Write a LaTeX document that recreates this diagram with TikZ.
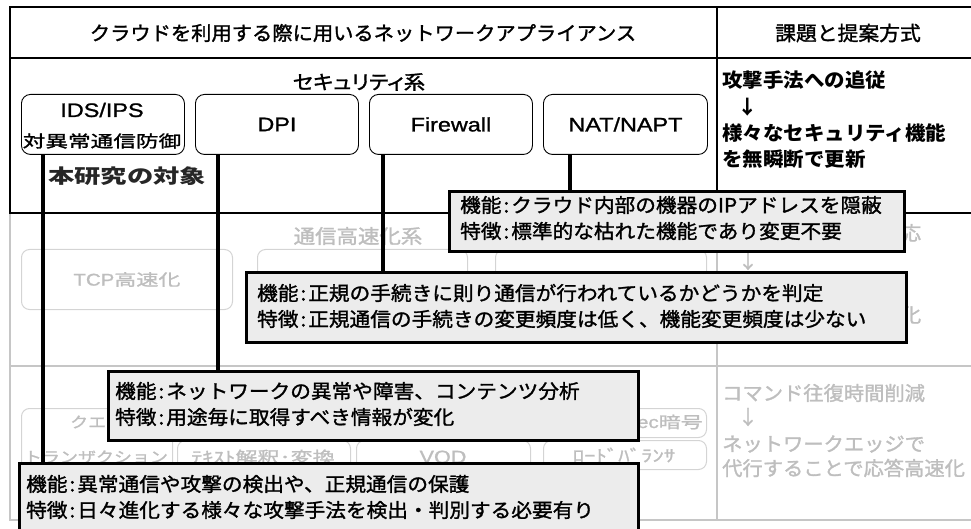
\documentclass[tikz,border=0pt]{standalone}
\usepackage{fontspec}
\setmainfont{Noto Sans CJK JP}
\newfontfamily\jpT{Noto Sans CJK JP}[FakeStretch=1.05]
\newfontfamily\jpTr{Noto Sans CJK JP}[FakeStretch=1.04,FakeBold=1.5]
\newfontfamily\jpP{Noto Sans CJK JP}[FakeStretch=1.1,RawFeature=+palt,FakeBold=1.5]
\newfontfamily\jpC{Noto Sans CJK JP}[FakeStretch=1.06,FakeBold=1.4]
\newfontfamily\jpW{Noto Sans CJK JP}[FakeStretch=1.38,FakeBold=1.4]
\newfontfamily\jpB{Noto Sans CJK JP}[FakeStretch=1.35]
\newfontfamily\jpM{Noto Sans CJK JP}[FakeStretch=1.2,FakeBold=1.4]
\newfontfamily\arW{Liberation Sans}[FakeStretch=1.2,FakeBold=1.2]
\newcommand{\fsz}[1]{\fontsize{#1}{#1}\selectfont}
\newcommand{\cln}{\makebox[0.5em]{:}}
\definecolor{fadetext}{RGB}{190,190,190}
\definecolor{fadeline}{RGB}{198,198,198}
\definecolor{fadebox}{RGB}{212,212,212}
\definecolor{callfill}{RGB}{236,236,236}
\tikzset{
  blackframe/.style={draw=black, line width=2.4pt},
  grayframe/.style={draw=fadeline, line width=2pt},
  secbox/.style={draw=black, line width=0.9pt, rounded corners=9pt, inner sep=0pt, anchor=north west},
  fadedbox/.style={draw=fadebox, line width=1pt, rounded corners=8pt, inner sep=0pt, anchor=north west},
  link/.style={draw=black, line width=3.2pt},
  callout/.style={draw=black, fill=callfill, line width=2.6pt, inner sep=0pt, anchor=north west},
  txt/.style={inner sep=0pt},
  ftxt/.style={inner sep=0pt, text=fadetext},
  ctxt/.style={inner sep=0pt, anchor=west, font=\jpC\fsz{19.5}},
}
\begin{document}
\begin{tikzpicture}[x=1pt,y=-1pt]
\useasboundingbox (0,0) rectangle (971,529);
% ---------- faded sections ----------
\draw[grayframe] (10,213) rectangle (975,366);
\draw[grayframe] (10,366) rectangle (975,520);
\draw[grayframe] (717,213) -- (717,520);
\node[ftxt, font=\jpP\fsz{19.5}] (speedtitle) at (358,236) {通信高速化系};
\node[fadedbox, minimum width=211pt, minimum height=60pt] (tcp) at (21,249) {};
\node[fadedbox, minimum width=210pt, minimum height=60pt] (mid2) at (257,249) {};
\node[fadedbox, minimum width=211pt, minimum height=60pt] (mid3) at (495,249) {};
\node[ftxt] (tcptext) at (tcp.center) {{\arW\fsz{17}TCP}{\jpW\fsz{16}高速化}};
\node[ftxt, font=\jpTr\fsz{19.5}] (midr1) at (911,233) {応};
\node[ftxt, font=\jpTr\fsz{19.5}] (midr2) at (748,261) {↓};
\node[ftxt, font=\jpTr\fsz{19.5}] (midr4) at (911,315) {化};
% lower faded boxes
\node[fadedbox, minimum width=151pt, minimum height=64pt] (low1) at (21,408) {};
\node[fadedbox, minimum width=173pt, minimum height=32pt] (low2) at (177,440) {};
\node[fadedbox, minimum width=174pt, minimum height=32pt] (low3) at (356,440) {};
\node[fadedbox, minimum width=163pt, minimum height=29pt] (low4) at (543,440) {};
\node[fadedbox, minimum width=163pt, minimum height=29pt] (low5) at (543,408) {};
\node[ftxt, anchor=west, font=\jpM\fsz{15}] (low1a) at (70,422) {クエ};
\node[ftxt, font=\jpM\fsz{15}] (low1b) at (96,457) {トランザクション};
\node[ftxt, font=\jpW\fsz{16}] (low2t) at (263,457) {ﾃｷｽﾄ解釈･変換};
\node[ftxt, font=\arW\fsz{18}] (low3t) at (443,457) {VOD};
\node[ftxt, font=\jpW\fsz{16.5}] (low4t) at (624,455) {ﾛｰﾄﾞﾊﾞﾗﾝｻ};
\node[ftxt, anchor=east] (low5t) at (703,422) {{\arW\fsz{17}IPsec}{\jpW\fsz{16}暗号}};
\node[ftxt, anchor=west, font=\jpTr\fsz{19.5}] (lowr1) at (722,393) {コマンド往復時間削減};
\node[ftxt, font=\jpTr\fsz{19.5}] (lowr2) at (748,417) {↓};
\node[ftxt, anchor=west, font=\jpTr\fsz{19.5}] (lowr3) at (722,444) {ネットワークエッジで};
\node[ftxt, anchor=west, font=\jpTr\fsz{19.5}] (lowr4) at (722,468) {代行することで応答高速化};
% ---------- top section ----------
\draw[blackframe] (10,7) rectangle (975,213);
\draw[black, line width=2pt] (10,58) -- (975,58);
\draw[blackframe] (717,7) -- (717,213);
\node[txt, font=\jpTr\fsz{19.5}] (title) at (363,33) {クラウドを利用する際に用いるネットワークアプライアンス};
\node[txt, font=\jpTr\fsz{20}] (issue) at (848,33) {課題と提案方式};
\node[txt, font=\jpP\fsz{19.5}] (sectitle) at (359,82) {セキュリティ系};
\node[secbox, minimum width=163pt, minimum height=60pt] (ids) at (21,94) {};
\node[secbox, minimum width=163pt, minimum height=60pt] (dpi) at (195,94) {};
\node[secbox, minimum width=163pt, minimum height=60pt] (fw) at (369,94) {};
\node[secbox, minimum width=164pt, minimum height=60pt] (nat) at (543,94) {};
\node[txt, font=\arW\fsz{19.5}] (idsa) at (102,110) {IDS/IPS};
\node[txt, font=\jpW\fsz{16.4}] (idsb) at (102,141) {対異常通信防御};
\node[txt, font=\arW\fsz{19.5}] (dpit) at (dpi.center) {DPI};
\node[txt, font=\arW\fsz{19.5}] (fwt) at (fw.center) {Firewall};
\node[txt, font=\arW\fsz{19.5}] (natt) at (nat.center) {NAT/NAPT};
\node[txt, anchor=west, text=black!85, font=\jpB\bfseries\fsz{19.5}] (target) at (48,176) {本研究の対象};
\node[txt, anchor=west, font=\jpT\bfseries\fsz{19.5}] (r1) at (722,80) {攻撃手法への追従};
\node[txt, font=\jpT\bfseries\fsz{19.5}] (r2) at (748,107) {↓};
\node[txt, anchor=west, font=\jpT\bfseries\fsz{19.5}] (r3) at (722,133) {様々なセキュリティ機能};
\node[txt, anchor=west, font=\jpT\bfseries\fsz{19.5}] (r4) at (722,159) {を無瞬断で更新};
% ---------- callouts ----------
\node[callout, minimum width=455pt, minimum height=60pt] (cnat) at (448,190) {};
\node[ctxt] (cnat1) at (460,205) {機能\cln クラウド内部の機器のIPアドレスを隠蔽};
\node[ctxt] (cnat2) at (460,231) {特徴\cln 標準的な枯れた機能であり変更不要};
\node[callout, minimum width=660pt, minimum height=70pt] (cfw) at (245,271) {};
\node[ctxt] (cfw1) at (257,293) {機能\cln 正規の手続きに則り通信が行われているかどうかを判定};
\node[ctxt] (cfw2) at (257,319) {特徴\cln 正規通信の手続きの変更頻度は低く、機能変更頻度は少ない};
\node[callout, minimum width=530pt, minimum height=69pt] (cdpi) at (107,370) {};
\node[ctxt] (cdpi1) at (115,391) {機能\cln ネットワークの異常や障害、コンテンツ分析};
\node[ctxt] (cdpi2) at (115,417) {特徴\cln 用途毎に取得すべき情報が変化};
\node[callout, minimum width=619pt, minimum height=80pt] (cids) at (18,462) {};
\node[ctxt] (cids1) at (26,484) {機能\cln 異常通信や攻撃の検出や、正規通信の保護};
\node[ctxt] (cids2) at (26,510) {特徴\cln 日々進化する様々な攻撃手法を検出・判別する必要有り};
% ---------- connectors ----------
\draw[link] ([xshift=22pt]ids.south west) -- ([xshift=22pt]ids.south west |- cids.north);
\draw[link] ([xshift=23pt]dpi.south west) -- ([xshift=23pt]dpi.south west |- cdpi.north);
\draw[link] ([xshift=14pt]fw.south west) -- ([xshift=14pt]fw.south west |- cfw.north);
\draw[link] ([xshift=27pt]nat.south west) -- ([xshift=27pt]nat.south west |- cnat.north);
\end{tikzpicture}
\end{document}
